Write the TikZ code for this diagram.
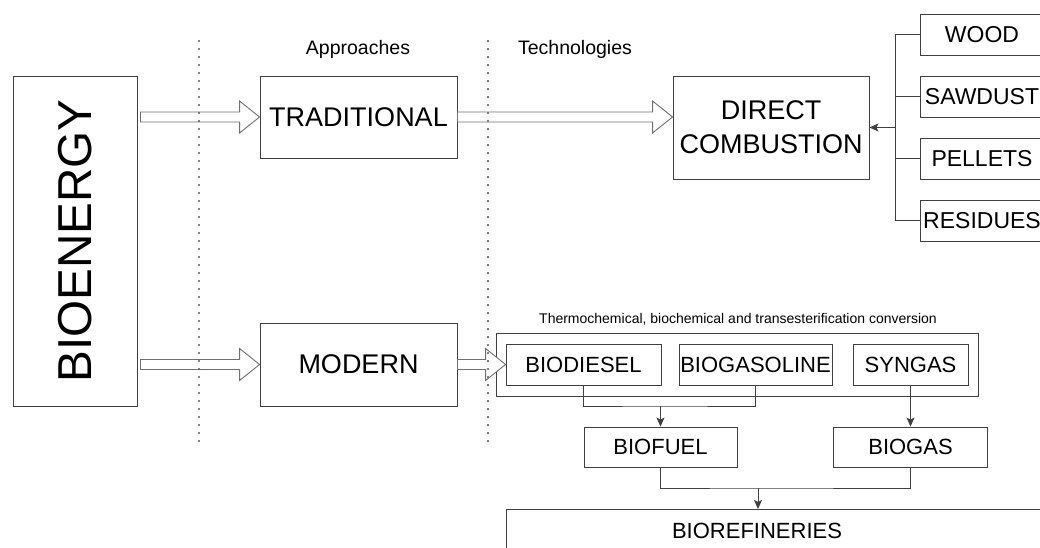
\documentclass[tikz,border=0pt]{standalone}
\usepackage{fontspec}
\setmainfont{Liberation Sans}
\usepackage{tikz}
\usetikzlibrary{arrows.meta, positioning, calc}
\definecolor{linecolor}{HTML}{404040}
\definecolor{blockcolor}{HTML}{707070}

\newcommand{\fsHuge}{\fontsize{47.6}{56}\selectfont}
\newcommand{\fsBig}{\fontsize{27}{34}\selectfont}
\newcommand{\fsMid}{\fontsize{23}{28}\selectfont}
\newcommand{\fsBox}{\fontsize{22}{26}\selectfont}
\newcommand{\fsHead}{\fontsize{19.5}{24}\selectfont}
\newcommand{\fsNote}{\fontsize{14}{17}\selectfont}

% hollow block arrow from #1 to the tip #2
\newcommand{\blockarrow}[2]{%
  \draw[blockarrow] ($(#1)+(0,-5)$) -- ($(#2)+(-20,-5)$) -- ($(#2)+(-20,-16)$) -- (#2)
    -- ($(#2)+(-20,16)$) -- ($(#2)+(-20,5)$) -- ($(#1)+(0,5)$) -- cycle;}

\begin{document}
\begin{tikzpicture}[x=1pt, y=-1pt,
    box/.style={rectangle, draw=linecolor, line width=0.9pt, inner sep=0pt, align=center},
    source/.style={box, minimum width=124pt, minimum height=41pt, font=\fsMid},
    product/.style={box, minimum height=41pt, font=\fsBox},
    blockarrow/.style={draw=blockcolor, fill=white, line width=0.9pt, line join=miter},
    line/.style={draw=linecolor, line width=0.9pt},
    arrow/.style={line, -{Stealth[length=9pt, width=8pt, inset=2pt]}},
    divider/.style={draw=black!65, line width=2.2pt, line cap=round, dash pattern=on 0pt off 8pt}
]
\useasboundingbox (0,0) rectangle (1040,548);

% main branches
\node[box, minimum width=124pt, minimum height=330pt] (bioenergy) at (75,241) {\rotatebox{90}{\fsHuge BIOENERGY}};
\node[box, minimum width=197pt, minimum height=82pt, font=\fsBig] (traditional) at (358.5,117) {TRADITIONAL};
\node[box, minimum width=197pt, minimum height=83pt, font=\fsBig] (modern) at (358.5,364.5) {MODERN};
\node[box, minimum width=196pt, minimum height=103pt, font=\fsBig] (combustion) at (771,127.5) {DIRECT\\COMBUSTION};

\node[font=\fsHead] (approaches) at (358,49) {Approaches};
\node[font=\fsHead] (technologies) at (575,49) {Technologies};

% biomass sources
\node[source] (wood) at (982,34.5) {WOOD};
\node[source] (sawdust) at (982,96.5) {SAWDUST};
\node[source] (pellets) at (982,158.5) {PELLETS};
\node[source] (residues) at (982,220.5) {RESIDUES};
\coordinate (hub) at (895,127.5);

% conversion routes
\node[box, minimum width=482pt, minimum height=63pt] (conversion) at (737,364.5) {};
\node[font=\fsNote] (conversionlabel) at (738,319) {Thermochemical, biochemical and transesterification conversion};
\node[product, minimum width=155pt] (biodiesel) at (583.5,364.5) {BIODIESEL};
\node[product, minimum width=153pt] (biogasoline) at (755.5,364.5) {BIOGASOLINE};
\node[product, minimum width=115pt] (syngas) at (910.5,364.5) {SYNGAS};
\node[product, minimum width=153pt, minimum height=40pt] (biofuel) at (660.5,447) {BIOFUEL};
\node[product, minimum width=154pt, minimum height=40pt] (biogas) at (910.5,447) {BIOGAS};
\node[box, minimum width=560pt, minimum height=60pt, anchor=north west] (biorefineries) at (506,509) {};
\node[font=\fsBox] (biorefinerieslabel) at (757,531) {BIOREFINERIES};
\coordinate (fueljoin) at (660.5,406);
\coordinate (refjoin) at (758,488);

% block arrows
\blockarrow{$(bioenergy.east |- traditional.west)+(3,0)$}{traditional.west}
\blockarrow{$(bioenergy.east |- modern.west)+(3,0)$}{modern.west}
\blockarrow{traditional.east}{combustion.west |- traditional.east}
\blockarrow{modern.east}{biodiesel.west}

% connectors
\draw[line] (wood.west) -| (hub) |- (residues.west);
\foreach \n in {sawdust,pellets}
  \draw[line] (\n.west) -- (\n.west -| hub);
\draw[arrow] (hub) -- (combustion.east);
\draw[line] (biodiesel.south) |- (fueljoin) -| (biogasoline.south);
\draw[arrow] (fueljoin) -- (biofuel.north);
\draw[arrow] (syngas.south) -- (biogas.north);
\draw[line] (biofuel.south) |- (refjoin) -| (biogas.south);
\draw[arrow] (refjoin) -- (refjoin |- biorefineries.north);

% dotted dividers
\draw[divider] (199,41) -- (199,447);
\draw[divider] (488,41) -- (488,447);
\end{tikzpicture}
\end{document}
